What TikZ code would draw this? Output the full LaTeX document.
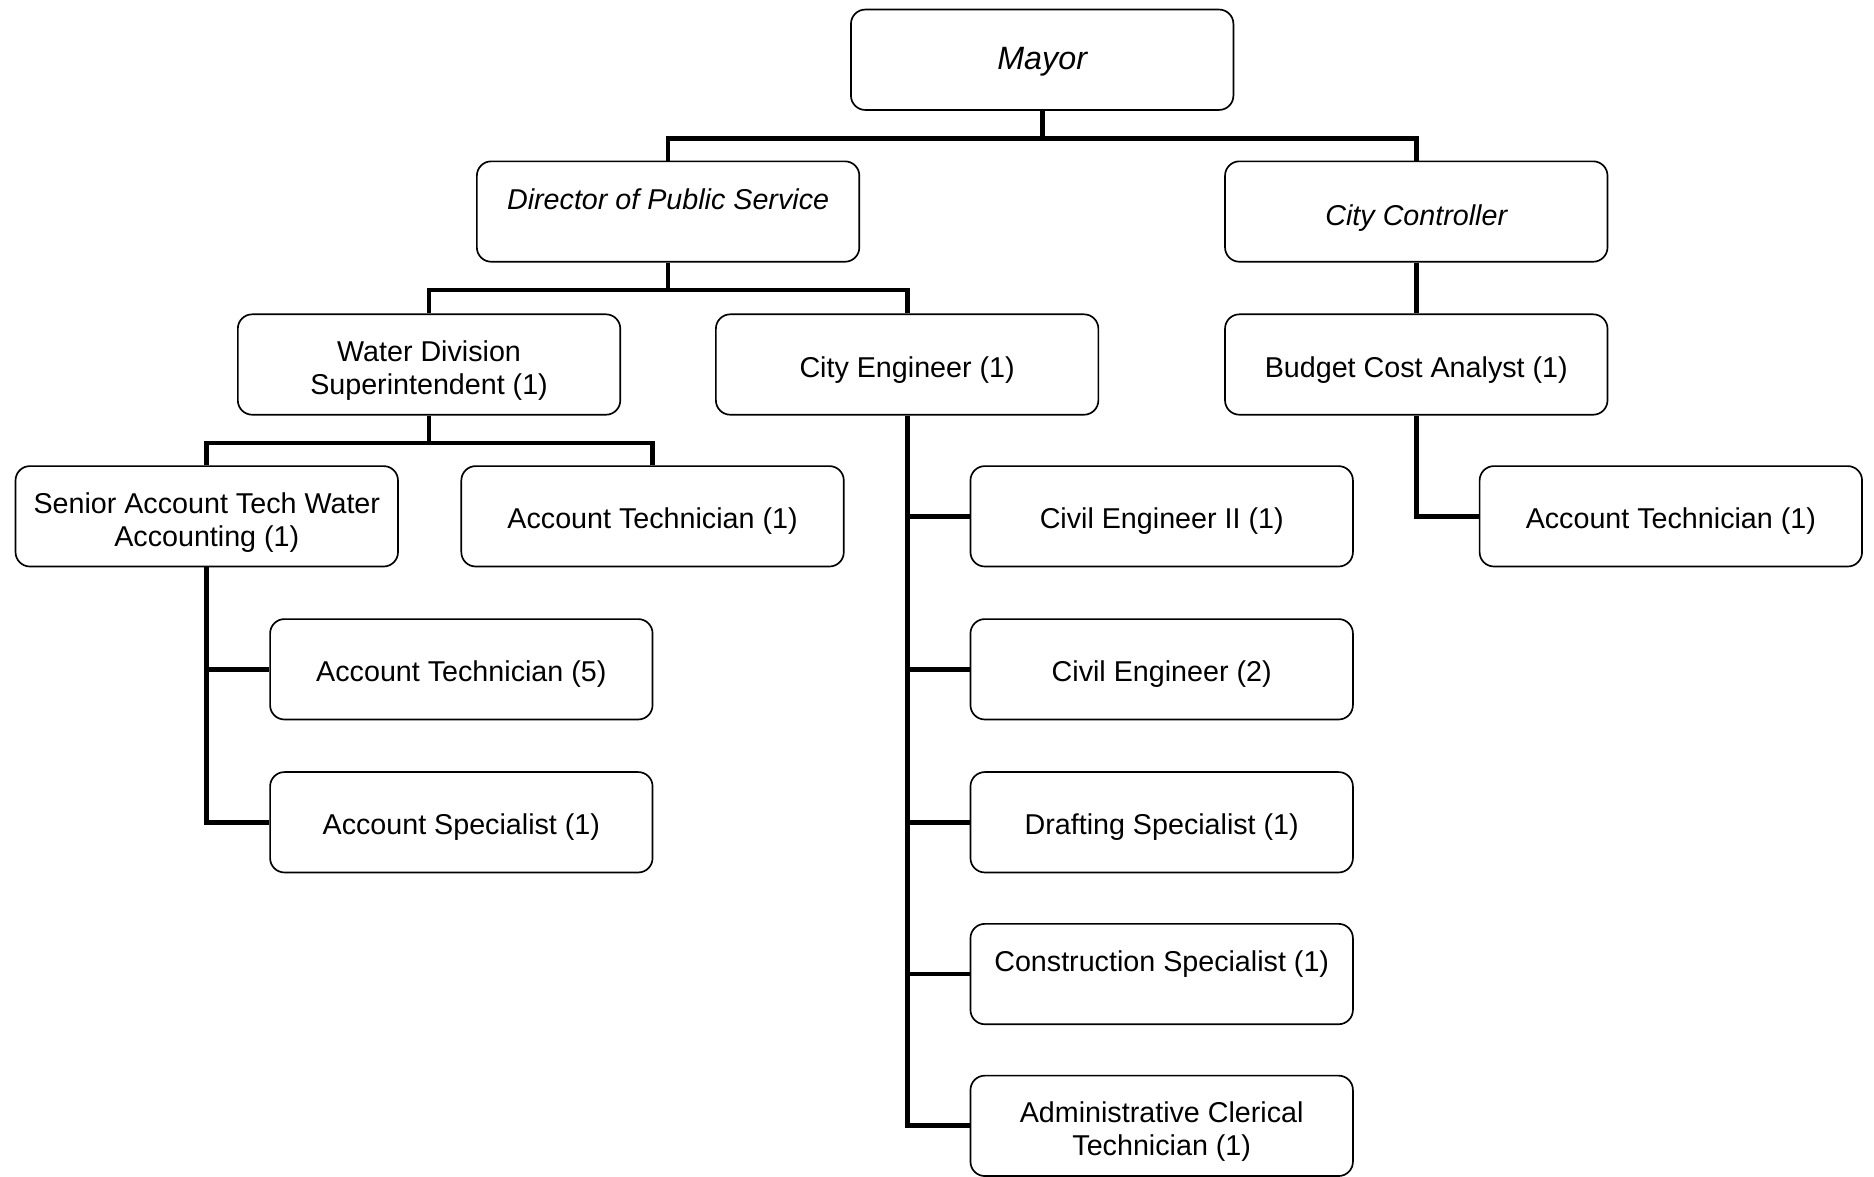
\documentclass[tikz,border=0pt]{standalone}
\usepackage{fontspec}
\setmainfont{Liberation Sans}
\begin{document}
\begin{tikzpicture}[x=1pt,y=-1pt,
  box/.style={draw, line width=1.4pt, rounded corners=12pt, minimum width=320pt,
    minimum height=84pt, align=center, inner sep=0pt,
    text height=21pt, text depth=0pt,
    font=\fontsize{24}{27.5}\selectfont},
  twoline/.style={text height=50pt},
  topline/.style={text depth=25pt},
  link/.style={line width=4pt, line join=miter}]
\useasboundingbox (0,0) rectangle (1568,984);

% top level
\node[box, font=\fontsize{27}{30}\selectfont\itshape, text height=19.5pt, text depth=4pt] (mayor) at (872,50) {Mayor};
\node[box, font=\fontsize{24}{27.5}\selectfont\itshape, topline] (dir) at (559,177) {Director of Public Service};
\node[box, font=\fontsize{24}{27.5}\selectfont\itshape, text height=23pt] (ctrl) at (1185,177) {City Controller};

% second level
\node[box, twoline] (water) at (359,305) {Water Division\\Superintendent (1)};
\node[box] (eng) at (759,305) {City Engineer (1)};
\node[box] (bca) at (1185,305) {Budget Cost Analyst (1)};

% water division
\node[box, twoline] (senior) at (173,432) {Senior Account Tech Water\\Accounting (1)};
\node[box] (atw) at (546,432) {Account Technician (1)};
\node[box] (at5) at (386,560) {Account Technician (5)};
\node[box] (asp) at (386,688) {Account Specialist (1)};

% engineering
\node[box] (ce2) at (972,432) {Civil Engineer II (1)};
\node[box] (ce) at (972,560) {Civil Engineer (2)};
\node[box] (draft) at (972,688) {Drafting Specialist (1)};
\node[box, topline] (constr) at (972,815) {Construction Specialist (1)};
\node[box, twoline] (admin) at (972,942) {Administrative Clerical\\Technician (1)};

% controller's office
\node[box] (atc) at (1398,432) {Account Technician (1)};

% reporting lines
\draw[link] (mayor.south) -- ++(0,23) -| (dir.north);
\draw[link] (mayor.south) -- ++(0,23) -| (ctrl.north);
\draw[link] (dir.south) -- ++(0,23) -| (water.north);
\draw[link] (dir.south) -- ++(0,23) -| (eng.north);
\draw[link] (ctrl.south) -- (bca.north);
\draw[link] (water.south) -- ++(0,23) -| (senior.north);
\draw[link] (water.south) -- ++(0,23) -| (atw.north);
\draw[link] (senior.south) |- (at5.west);
\draw[link] (senior.south) |- (asp.west);
\draw[link] (eng.south) |- (ce2.west);
\draw[link] (eng.south) |- (ce.west);
\draw[link] (eng.south) |- (draft.west);
\draw[link] (eng.south) |- (constr.west);
\draw[link] (eng.south) |- (admin.west);
\draw[link] (bca.south) |- (atc.west);
\end{tikzpicture}
\end{document}
